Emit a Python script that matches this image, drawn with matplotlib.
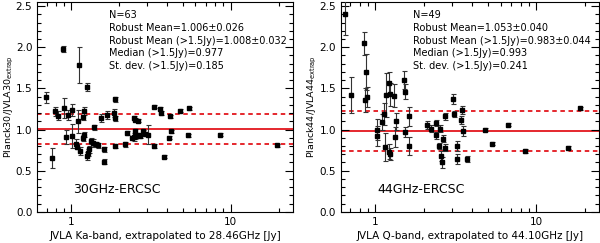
import matplotlib.pyplot as plt
from matplotlib.ticker import MultipleLocator, LogLocator, FixedLocator, NullFormatter
import numpy as np

# 30 GHz panel
flujo30 = [0.694, 0.753, 0.793, 0.827, 0.889, 0.902, 0.924, 0.947, 1.007, 1.007,
           1.067, 1.082, 1.093, 1.119, 1.134, 1.174, 1.18, 1.20, 1.20, 1.25,
           1.25, 1.27, 1.29, 1.32, 1.37, 1.39, 1.46, 1.54, 1.59, 1.59,
           1.68, 1.85, 1.87, 1.87, 1.87, 2.16, 2.24, 2.46, 2.52, 2.62,
           2.46, 2.52, 2.52, 2.62, 2.80, 2.88, 3.03, 3.28, 3.28, 3.58,
           3.66, 3.79, 4.07, 4.17, 4.23, 4.81, 5.37, 5.50, 8.54, 19.5,
           1.43, 2.40, 2.70]
razon30 = [1.39, 0.65, 1.22, 1.17, 1.98, 1.26, 0.91, 1.18, 1.24, 0.92,
           0.83, 0.79, 1.10, 1.78, 0.74, 0.90, 1.15, 1.23, 0.94, 1.52,
           0.68, 0.72, 0.76, 0.86, 0.84, 1.03, 0.81, 1.14, 0.76, 0.61,
           1.18, 1.20, 1.37, 1.14, 0.80, 0.82, 0.96, 1.14, 1.12, 1.11,
           0.91, 0.98, 0.92, 0.94, 0.98, 0.95, 0.94, 1.28, 0.80, 1.25,
           1.20, 0.67, 0.90, 1.16, 0.98, 1.23, 0.93, 1.26, 0.94, 0.81,
           0.82, 0.90, 0.92]
error30 = [0.07, 0.12, 0.05, 0.05, 0.04, 0.12, 0.08, 0.06, 0.07, 0.15,
           0.05, 0.03, 0.14, 0.22, 0.05, 0.04, 0.03, 0.05, 0.03, 0.05,
           0.05, 0.04, 0.04, 0.04, 0.05, 0.03, 0.03, 0.05, 0.03, 0.03,
           0.05, 0.05, 0.03, 0.03, 0.03, 0.03, 0.02, 0.02, 0.02, 0.02,
           0.05, 0.03, 0.03, 0.02, 0.02, 0.02, 0.12, 0.02, 0.02, 0.02,
           0.02, 0.02, 0.02, 0.02, 0.02, 0.02, 0.02, 0.02, 0.02, 0.02,
           0.03, 0.02, 0.02]

# 44 GHz panel
flujo44 = [0.649, 0.707, 0.847, 0.863, 0.875, 0.888, 1.019, 1.024, 1.095, 1.137,
           1.153, 1.164, 1.21, 1.23, 1.22, 1.24, 1.31, 1.33, 1.34, 1.51,
           1.53, 1.52, 1.61, 1.61, 2.09, 2.21, 2.38, 2.40, 2.49, 2.52,
           2.55, 2.59, 2.64, 2.70, 2.71, 3.02, 3.10, 3.20, 3.24, 3.43,
           3.47, 3.52, 3.70, 4.78, 5.29, 6.70, 8.51, 15.8, 18.7]
razon44 = [2.40, 1.42, 2.05, 1.36, 1.70, 1.40, 1.00, 0.92, 1.09, 1.19,
           0.79, 1.42, 1.56, 1.43, 0.73, 0.70, 1.41, 0.91, 1.10, 1.60,
           1.46, 0.97, 1.16, 0.80, 1.06, 1.01, 1.08, 0.93, 0.80, 1.01,
           0.68, 0.60, 0.89, 0.78, 1.16, 1.37, 1.19, 0.80, 0.64, 1.12,
           1.24, 0.98, 0.64, 1.00, 0.83, 1.06, 0.74, 0.78, 1.26]
error44 = [0.25, 0.22, 0.14, 0.15, 0.22, 0.12, 0.13, 0.12, 0.10, 0.13,
           0.17, 0.27, 0.14, 0.14, 0.09, 0.07, 0.14, 0.12, 0.10, 0.11,
           0.09, 0.06, 0.12, 0.11, 0.05, 0.04, 0.04, 0.04, 0.04, 0.04,
           0.06, 0.07, 0.04, 0.04, 0.04, 0.06, 0.04, 0.06, 0.06, 0.05,
           0.05, 0.06, 0.04, 0.02, 0.02, 0.02, 0.02, 0.02, 0.02]

textos30 = ['N=63', 'Robust Mean=1.006\u00b10.026', 'Robust Mean (>1.5Jy)=1.008\u00b10.032',
            'Median (>1.5Jy)=0.977', 'St. dev. (>1.5Jy)=0.185']
textos44 = ['N=49', 'Robust Mean=1.053\u00b10.040', 'Robust Mean (>1.5Jy)=0.983\u00b10.044',
            'Median (>1.5Jy)=0.993', 'St. dev. (>1.5Jy)=0.241']

media30, sigma30 = 1.008, 0.185
media44, sigma44 = 0.983, 0.241

rojo = '#e3161c'


def panel(ax, x, y, err, media, sigma, textos, etiqueta, xlabel, ylabel):
    ax.axhline(media, color=rojo, lw=1.3, zorder=1)
    ax.axhline(media + sigma, color=rojo, lw=1.3, ls=(0, (2.5, 2)), zorder=1)
    ax.axhline(media - sigma, color=rojo, lw=1.3, ls=(0, (2.5, 2)), zorder=1)
    ax.errorbar(x, y, yerr=err, fmt='s', color='black', ms=2.8,
                ecolor='#333333', elinewidth=0.8, capsize=1.8, capthick=0.8, zorder=3)

    ax.set_xscale('log')
    ax.set_xlim(0.61, 24.5)
    ax.set_ylim(0, 2.55)
    ax.xaxis.set_major_locator(FixedLocator([1, 10]))
    ax.xaxis.set_major_formatter(plt.FuncFormatter(lambda v, p: '%d' % v))
    ax.xaxis.set_minor_locator(LogLocator(subs=np.arange(2, 10)))
    ax.xaxis.set_minor_formatter(NullFormatter())
    ax.yaxis.set_major_locator(MultipleLocator(0.5))
    ax.yaxis.set_minor_locator(MultipleLocator(0.1))
    ax.yaxis.set_major_formatter(plt.FuncFormatter(lambda v, p: '%.1f' % v))
    ax.tick_params(which='both', direction='in', top=True, right=True, labelsize=7.5, width=0.8)
    ax.tick_params(which='major', length=6)
    ax.tick_params(which='minor', length=3)
    for s in ax.spines.values():
        s.set_linewidth(0.8)

    ax.text(0.28, 0.962, '\n'.join(textos), transform=ax.transAxes, fontsize=7,
            va='top', ha='left', linespacing=1.35)
    ax.text(0.14, 0.105, etiqueta, transform=ax.transAxes, fontsize=9, va='center')
    ax.set_xlabel(xlabel, fontsize=7.5, labelpad=3)
    ax.set_ylabel(ylabel, fontsize=6.8)
    ax.yaxis.set_label_coords(-0.083, 0.5)


fig = plt.figure(figsize=(6, 2.43), dpi=100)
ax1 = fig.add_axes([0.062, 0.128, 0.426, 0.864])
ax2 = fig.add_axes([0.568, 0.128, 0.43, 0.864])

panel(ax1, flujo30, razon30, error30, media30, sigma30, textos30, '30GHz-ERCSC',
      'JVLA Ka-band, extrapolated to 28.46GHz [Jy]', r'Planck30/JVLA30$_{\rm extrap}$')
panel(ax2, flujo44, razon44, error44, media44, sigma44, textos44, '44GHz-ERCSC',
      'JVLA Q-band, extrapolated to 44.10GHz [Jy]', r'Planck44/JVLA44$_{\rm extrap}$')

fig.savefig('out.png', dpi=100)
